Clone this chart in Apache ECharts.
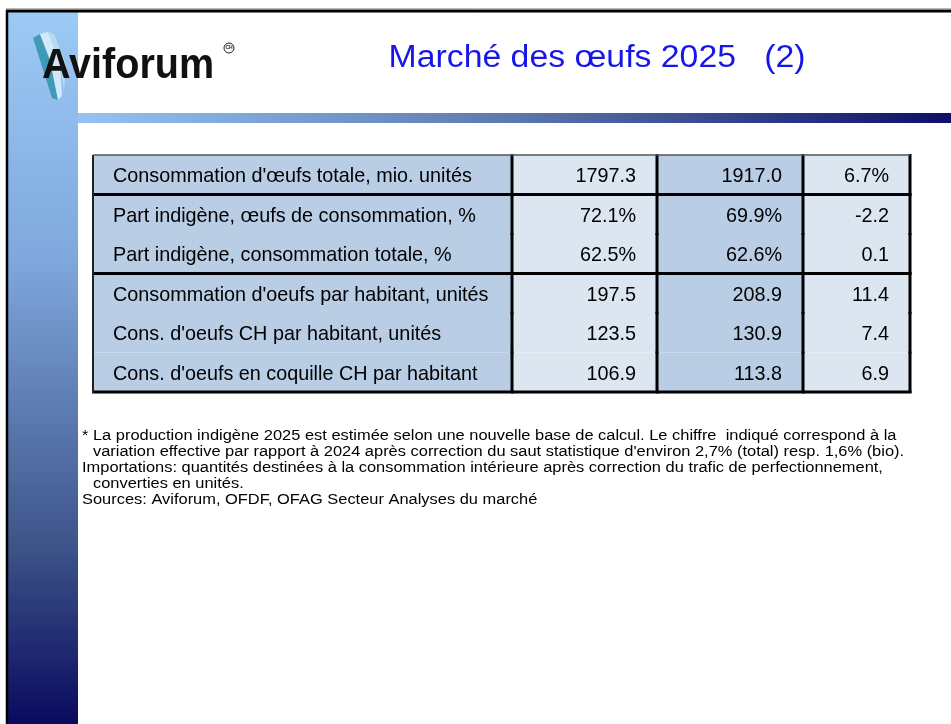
<!DOCTYPE html>
<html>
<head>
<meta charset="utf-8">
<title>Marché des œufs 2025 (2)</title>
<script src="https://cdn.jsdelivr.net/npm/echarts@6/dist/echarts.min.js"></script>
<style>
  html, body { margin: 0; padding: 0; background: #fff; }
  #main { width: 951px; height: 724px; }
</style>
</head>
<body>
<div id="main"></div>
<script>
// lignes du tableau
const rowLabels = [
  "Consommation d'œufs totale, mio. unités",
  "Part indigène, œufs de consommation, %",
  "Part indigène, consommation totale, %",
  "Consommation d'oeufs par habitant, unités",
  "Cons. d'oeufs CH par habitant, unités",
  "Cons. d'oeufs en coquille CH par habitant"
];
const values2024 = [1797.3, 72.1, 62.5, 197.5, 123.5, 106.9];
const values2025 = [1917.0, 69.9, 62.6, 208.9, 130.9, 113.8];
const changes = [6.7, -2.2, 0.1, 11.4, 7.4, 6.9];
const valueSuffix = ['', '%', '%', '', '', ''];
const changeSuffix = ['%', '', '', '', '', ''];
// dernière ligne de chaque bloc (trait épais dessous)
const groupEnds = [0, 2, 5];

const footnotes = [
  "* La production indigène 2025 est estimée selon une nouvelle base de calcul. Le chiffre  indiqué correspond à la",
  "variation effective par rapport à 2024 après correction du saut statistique d'environ 2,7% (total) resp. 1,6% (bio).",
  "Importations: quantités destinées à la consommation intérieure après correction du trafic de perfectionnement,",
  "converties en unités.",
  "Sources: Aviforum, OFDF, OFAG Secteur Analyses du marché"
];
const footIndent = [false, true, false, true, false];

// largeurs des colonnes (px)
const colWidths = [419, 145, 146, 107];
const colFill = ['#b9cde5', '#dce6f1', '#b9cde5', '#dce6f1'];
const colEdges = [0];
colWidths.forEach(function (w, i) { colEdges.push(colEdges[i] + w); });

function cellText(c, r) {
  if (c === 0) return rowLabels[r];
  if (c === 1) return values2024[r].toFixed(1) + valueSuffix[r];
  if (c === 2) return values2025[r].toFixed(1) + valueSuffix[r];
  return changes[r].toFixed(1) + changeSuffix[r];
}

const cells = [];
for (let r = 0; r < rowLabels.length; r++) {
  for (let c = 0; c < 4; c++) cells.push([c, r]);
}

const font = "'Liberation Sans', Arial, sans-serif";

function cellBox(api) {
  const c = api.value(0), r = api.value(1);
  const yc = api.coord([0, r])[1];
  const h = api.size([0, 1])[1];
  return {
    c: c, r: r, yc: yc, h: h,
    x0: api.coord([colEdges[c], r])[0],
    x1: api.coord([colEdges[c + 1], r])[0],
    y0: yc - h / 2, y1: yc + h / 2
  };
}

function renderCell(params, api) {
  const b = cellBox(api);
  return {
    type: 'group',
    children: [{
      type: 'rect',
      shape: { x: b.x0, y: b.y0, width: b.x1 - b.x0, height: b.h },
      style: { fill: colFill[b.c] }
    }, {
      type: 'text',
      x: b.c === 0 ? b.x0 + 20 : b.x1 - 21,
      y: b.yc + 2,
      style: {
        text: cellText(b.c, b.r),
        fill: '#000',
        font: '19.8px ' + font,
        align: b.c === 0 ? 'left' : 'right',
        verticalAlign: 'middle'
      }
    }]
  };
}

function renderBorder(params, api) {
  const b = cellBox(api);
  const kids = [{
    type: 'line',
    shape: { x1: b.x1, y1: b.y0 - 1, x2: b.x1, y2: b.y1 + 1 },
    style: { stroke: '#000', lineWidth: 3 }
  }];
  if (groupEnds.indexOf(b.r) >= 0) {
    kids.push({
      type: 'line',
      shape: { x1: b.x0 - 1, y1: b.y1, x2: b.x1 + 1.5, y2: b.y1 },
      style: { stroke: '#000', lineWidth: 3 }
    });
  }
  if (b.c === 0) {
    kids.push({
      type: 'line',
      shape: { x1: b.x0, y1: b.y0, x2: b.x0, y2: b.y1 + 1 },
      style: { stroke: '#222', lineWidth: 2 }
    });
  }
  if (b.r === 0) {
    kids.push({
      type: 'line',
      shape: { x1: b.x0, y1: b.y0, x2: b.x1, y2: b.y0 },
      style: { stroke: '#555', lineWidth: 1.5 }
    });
  }
  return { type: 'group', children: kids };
}

var myChart = echarts.init(document.getElementById('main'), null, { renderer: 'canvas' });

const graphics = [
  // bandeau vertical gauche
  {
    type: 'rect', z: 1,
    shape: { x: 8, y: 12, width: 70, height: 712 },
    style: {
      fill: new echarts.graphic.LinearGradient(0, 0, 0, 1, [
        { offset: 0, color: '#9ccaf6' },
        { offset: 0.35, color: '#7fa7dc' },
        { offset: 0.75, color: '#3d5489' },
        { offset: 1, color: '#0a0a5e' }
      ])
    }
  },
  // bandeau horizontal
  {
    type: 'rect', z: 1,
    shape: { x: 78, y: 113, width: 873, height: 10 },
    style: {
      fill: new echarts.graphic.LinearGradient(0, 0, 1, 0, [
        { offset: 0, color: '#94c3f3' },
        { offset: 0.5, color: '#5c78ad' },
        { offset: 1, color: '#0e0e68' }
      ])
    }
  },
  // cadre
  { type: 'line', z: 2, shape: { x1: 6, y1: 8.5, x2: 951, y2: 8.5 }, style: { stroke: '#bbb', lineWidth: 1 } },
  { type: 'line', z: 2, shape: { x1: 6, y1: 11, x2: 951, y2: 11 }, style: { stroke: '#000', lineWidth: 3 } },
  { type: 'line', z: 2, shape: { x1: 7, y1: 10, x2: 7, y2: 724 }, style: { stroke: '#000', lineWidth: 2.5 } },
  // logo : plumes
  {
    type: 'polygon', z: 3,
    shape: { points: [[33, 38], [40, 34], [50, 60], [58, 100], [52, 98]] },
    style: { fill: '#2f93ad', opacity: 0.85 }
  },
  {
    type: 'polygon', z: 3,
    shape: { points: [[40, 34], [48, 32], [60, 62], [62, 96], [58, 100], [50, 60]] },
    style: { fill: '#d8ecf8', opacity: 0.9 }
  },
  {
    type: 'polygon', z: 3,
    shape: { points: [[48, 32], [54, 34], [66, 64], [64, 92], [60, 62]] },
    style: { fill: '#b9dcf0', opacity: 0.9 }
  },
  {
    type: 'text', z: 4, x: 42, y: 66, scaleX: 0.92,
    style: {
      text: 'Aviforum', font: 'bold 43px ' + font, fill: '#111',
      align: 'left', verticalAlign: 'middle'
    }
  },
  {
    type: 'circle', z: 4,
    shape: { cx: 229, cy: 48, r: 5 },
    style: { fill: 'none', stroke: '#222', lineWidth: 1 }
  },
  {
    type: 'text', z: 4, x: 229, y: 48,
    style: { text: 'CH', font: 'bold 5px ' + font, fill: '#222', align: 'center', verticalAlign: 'middle' }
  },
  // titre
  {
    type: 'text', z: 4, x: 597, y: 58, scaleX: 1.09,
    style: {
      text: 'Marché des œufs 2025   (2)', font: '31px ' + font, fill: '#1616e8',
      align: 'center', verticalAlign: 'middle'
    }
  }
];

footnotes.forEach(function (t, i) {
  graphics.push({
    type: 'text', z: 4,
    x: footIndent[i] ? 93 : 82,
    y: 436 + i * 16,
    scaleX: 1.06,
    style: { text: t, font: '15.5px ' + font, fill: '#000', align: 'left', verticalAlign: 'middle' }
  });
});

myChart.setOption({
  animation: false,
  backgroundColor: '#fff',
  graphic: graphics,
  grid: { left: 93, top: 155, width: 817, height: 237 },
  xAxis: { type: 'value', min: 0, max: colEdges[colEdges.length - 1], show: false },
  yAxis: { type: 'category', data: rowLabels, inverse: true, show: false },
  series: [{
    type: 'custom',
    renderItem: renderCell,
    data: cells,
    clip: false,
    z: 5
  }, {
    type: 'custom',
    renderItem: renderBorder,
    data: cells,
    clip: false,
    z: 6
  }]
});
</script>
</body>
</html>
